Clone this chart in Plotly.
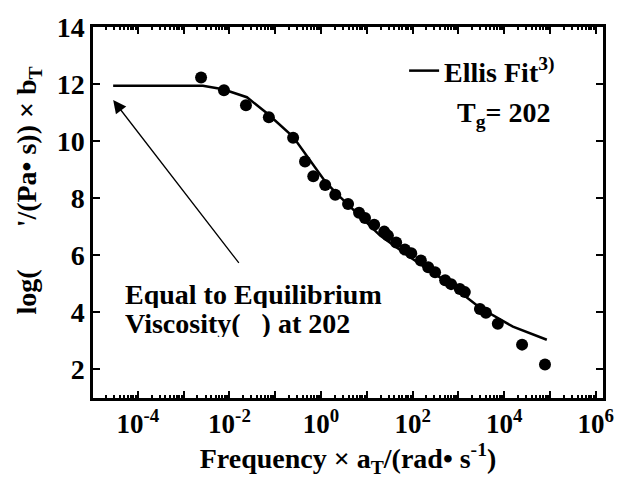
import numpy as np
import plotly.graph_objects as go

# Measured points: log10(frequency * aT) and log(eta'/(Pa s)) * bT
data_logx = [-2.62, -2.12, -1.64, -1.14, -0.61, -0.35, -0.17, 0.09, 0.31, 0.59,
             0.83, 0.96, 1.16, 1.38, 1.46, 1.64, 1.83, 1.97, 2.18, 2.34,
             2.49, 2.71, 2.84, 3.03, 3.14, 3.47, 3.60, 3.86, 4.39, 4.89]
data_y = [12.23, 11.78, 11.26, 10.84, 10.12, 9.29, 8.77, 8.46, 8.12, 7.80,
          7.49, 7.31, 7.07, 6.83, 6.69, 6.45, 6.20, 6.07, 5.82, 5.58,
          5.41, 5.13, 4.99, 4.82, 4.71, 4.12, 3.99, 3.60, 2.87, 2.17]

# Ellis fit curve
fit_logx = [-4.54, -2.58, -2.14, -1.62, -1.16, -0.61, 0.09, 0.33, 1.29, 2.01,
            2.75, 3.47, 4.19, 4.93]
fit_y = [11.94, 11.94, 11.82, 11.54, 10.95, 10.15, 8.59, 8.18, 6.69, 5.86,
         5.06, 4.16, 3.50, 3.04]

x_decades = list(range(-5, 7))
x_ticktext = ["10<sup>%d</sup>" % d if d % 2 == 0 and d > -5 else "" for d in x_decades]
y_ticks = [2, 4, 6, 8, 10, 12, 14]

data_x = [10 ** v for v in data_logx]
fit_x = [10 ** v for v in fit_logx]

FONT = "Liberation Serif"
BIG = dict(family=FONT, size=28, color="black", weight="bold")

fig = go.Figure()
fig.add_trace(go.Scatter(x=fit_x, y=fit_y, mode="lines",
                         line=dict(color="black", width=2.5),
                         name="Ellis Fit<sup>3)</sup>", showlegend=True))
fig.add_trace(go.Scatter(x=data_x, y=data_y, mode="markers",
                         marker=dict(color="black", size=12),
                         showlegend=False))

minor_vals = [m * 10 ** d for d in range(-6, 7) for m in range(2, 10)]

fig.update_xaxes(type="log", range=[-4.98, 6.157],
                 tickvals=[10 ** d for d in x_decades], ticktext=x_ticktext,
                 ticks="inside", ticklen=7, tickwidth=2, tickcolor="black",
                 minor=dict(tickvals=minor_vals, ticks="inside", ticklen=3,
                            tickwidth=1.5, tickcolor="black"),
                 showline=True, linewidth=2.5, linecolor="black", mirror="allticks",
                 showgrid=False, zeroline=False,
                 tickfont=dict(family=FONT, size=27, color="black", weight="bold"),
                 title=dict(text="Frequency × a<sub>T</sub>/(rad• s<sup>-1</sup>)",
                            font=BIG, standoff=8))
fig.update_yaxes(range=[1.0, 14.0], tickvals=y_ticks,
                 ticks="inside", ticklen=7, tickwidth=2, tickcolor="black",
                 showline=True, linewidth=2.5, linecolor="black", mirror="allticks",
                 showgrid=False, zeroline=False,
                 tickfont=dict(family=FONT, size=28, color="black", weight="bold"))

# y-axis title
fig.add_annotation(x=-0.127, y=0.56, xref="paper", yref="paper",
                   xanchor="center", yanchor="middle", textangle=-90,
                   text="log(      '/(Pa• s)) × b<sub>T</sub>",
                   showarrow=False, font=BIG)

fig.add_annotation(x=-4.54, y=11.44, ax=-1.77, ay=5.68,
                   xref="x", yref="y", axref="x", ayref="y",
                   text="", showarrow=True, arrowhead=2, arrowsize=2.0,
                   arrowwidth=1.3, arrowcolor="black")
fig.add_annotation(x=0.058, y=0.281, xref="paper", yref="paper",
                   xanchor="left", yanchor="middle", height=28,
                   text="Equal to Equilibrium", showarrow=False, font=BIG)
fig.add_annotation(x=0.058, y=0.202, xref="paper", yref="paper",
                   xanchor="left", yanchor="middle", height=28,
                   text="Viscosity(   ) at 202", showarrow=False, font=BIG)
fig.add_annotation(x=0.71, y=0.763, xref="paper", yref="paper",
                   xanchor="left", yanchor="middle",
                   text="T<sub>g</sub>= 202", showarrow=False, font=BIG)

fig.update_layout(width=634, height=480,
                  margin=dict(l=93, r=31, t=22, b=82),
                  paper_bgcolor="white", plot_bgcolor="white",
                  legend=dict(x=0.61, y=0.949, xanchor="left", yanchor="top",
                              bgcolor="rgba(0,0,0,0)", itemwidth=30,
                              font=BIG),
                  showlegend=True)

fig.write_html("out.html")
